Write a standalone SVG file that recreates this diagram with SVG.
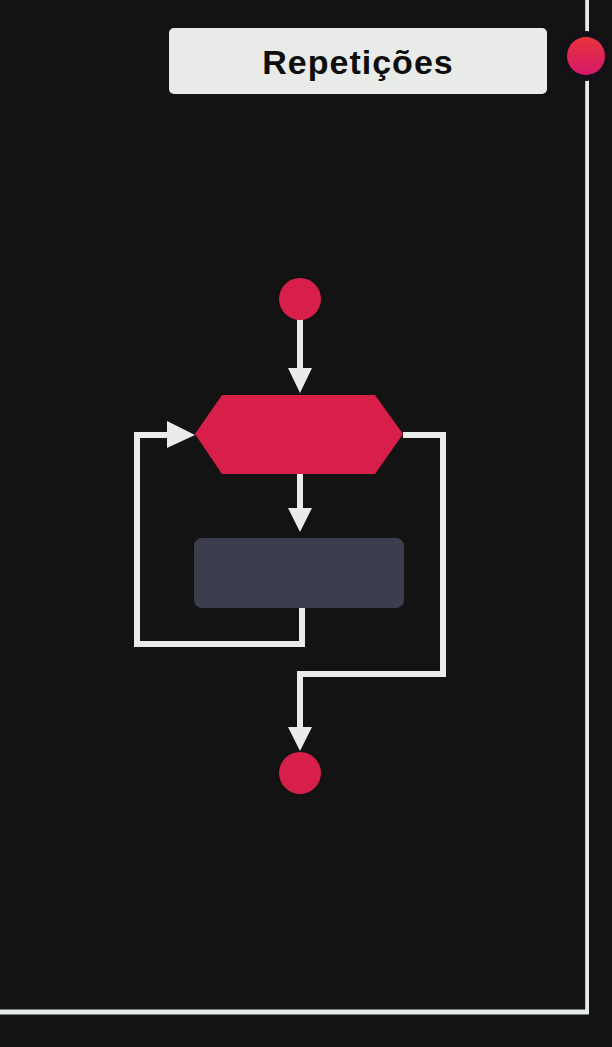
<svg xmlns="http://www.w3.org/2000/svg" width="612" height="1047" viewBox="0 0 612 1047">
  <defs>
    <style>
      .conn { fill: none; stroke: #e9ece9; stroke-width: 6; stroke-linejoin: miter; stroke-linecap: butt; }
      .head { fill: #e9ece9; }
      .red { fill: #d71f4a; }
      .frame { stroke: #e8ece8; fill: none; }
      .title { font-family: "Liberation Sans", Arial, sans-serif; font-weight: bold; font-size: 34px; fill: #0e0e0e; letter-spacing: 1px; }
    </style>
    <linearGradient id="dotGrad" x1="0" y1="0" x2="0" y2="1">
      <stop offset="0" stop-color="#e8333c"/>
      <stop offset="1" stop-color="#d5186a"/>
    </linearGradient>
  </defs>

  <rect x="0" y="0" width="612" height="1047" fill="#131313"/>

  <g id="frame">
    <line class="frame" x1="587" y1="0" x2="587" y2="1014" stroke-width="4"/>
    <line x1="585.5" y1="0" x2="585.5" y2="1010" stroke="#8fe08f" stroke-width="1"/>
    <line class="frame" x1="0" y1="1012" x2="589" y2="1012" stroke-width="5"/>
  </g>

  <g id="title">
    <rect x="169" y="28" width="378" height="66" rx="5" fill="#e8ebe8"/>
    <text class="title" x="358" y="74" text-anchor="middle">Repetições</text>
  </g>

  <g id="title-dot">
    <circle cx="586" cy="56" r="25" fill="#141018"/>
    <circle cx="586" cy="56" r="19" fill="url(#dotGrad)"/>
  </g>

  <g id="connectors">
    <line class="conn" x1="300" y1="318" x2="300" y2="370"/>
    <polygon class="head" points="288,368 312,368 300,393"/>

    <line class="conn" x1="300" y1="474" x2="300" y2="510"/>
    <polygon class="head" points="288,508 312,508 300,532"/>

    <polyline class="conn" points="302,608 302,644 137,644 137,435 170,435"/>
    <polygon class="head" points="167,421 167,448 195,435"/>

    <polyline class="conn" points="403,435 443,435 443,674 300,674 300,729"/>
    <polygon class="head" points="288,727 312,727 300,751"/>
  </g>

  <g id="start">
    <circle class="red" cx="300" cy="299" r="21"/>
  </g>

  <g id="decision">
    <polygon class="red" points="222,395 375,395 403,434 375,474 222,474 195,434"/>
  </g>

  <g id="process">
    <rect x="194" y="538" width="210" height="70" rx="8" fill="#3c3e4d"/>
  </g>

  <g id="end">
    <circle class="red" cx="300" cy="773" r="21"/>
  </g>
</svg>
